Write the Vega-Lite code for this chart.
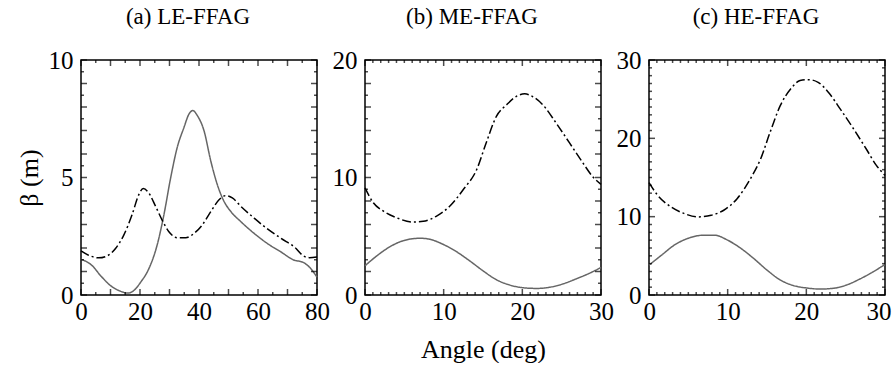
{
  "$schema": "https://vega.github.io/schema/vega-lite/v6.json",
  "padding": {"left": 15, "top": 5, "right": 0, "bottom": 0},
  "background": "white",
  "datasets": {
    "a": [
      {"x": 0, "y": 1.52, "s": "solid"}, {"x": 3.7, "y": 1.26, "s": "solid"}, {"x": 6.6, "y": 0.83, "s": "solid"}, {"x": 10, "y": 0.4, "s": "solid"},
      {"x": 13.4, "y": 0.16, "s": "solid"}, {"x": 15.9, "y": 0.08, "s": "solid"}, {"x": 17.9, "y": 0.19, "s": "solid"}, {"x": 20.2, "y": 0.54, "s": "solid"},
      {"x": 23, "y": 1.12, "s": "solid"}, {"x": 25.8, "y": 2.12, "s": "solid"}, {"x": 28.1, "y": 3.41, "s": "solid"}, {"x": 30.4, "y": 4.99, "s": "solid"},
      {"x": 32.6, "y": 6.27, "s": "solid"}, {"x": 34.9, "y": 7.13, "s": "solid"}, {"x": 36.6, "y": 7.7, "s": "solid"}, {"x": 37.9, "y": 7.85, "s": "solid"},
      {"x": 39.4, "y": 7.64, "s": "solid"}, {"x": 41.7, "y": 6.99, "s": "solid"}, {"x": 44, "y": 5.7, "s": "solid"}, {"x": 46.2, "y": 4.7, "s": "solid"},
      {"x": 48.5, "y": 3.98, "s": "solid"}, {"x": 50.8, "y": 3.55, "s": "solid"}, {"x": 54.2, "y": 3.12, "s": "solid"}, {"x": 58.7, "y": 2.62, "s": "solid"},
      {"x": 63.2, "y": 2.19, "s": "solid"}, {"x": 67.8, "y": 1.83, "s": "solid"}, {"x": 72.3, "y": 1.48, "s": "solid"}, {"x": 75.1, "y": 1.4, "s": "solid"},
      {"x": 77.4, "y": 1.19, "s": "solid"}, {"x": 80, "y": 0.76, "s": "solid"},
      {"x": 0, "y": 1.88, "s": "dashdot"}, {"x": 3.2, "y": 1.66, "s": "dashdot"}, {"x": 6, "y": 1.58, "s": "dashdot"}, {"x": 8.8, "y": 1.66, "s": "dashdot"},
      {"x": 11.7, "y": 1.98, "s": "dashdot"}, {"x": 14.5, "y": 2.55, "s": "dashdot"}, {"x": 17.3, "y": 3.41, "s": "dashdot"}, {"x": 19.6, "y": 4.27, "s": "dashdot"},
      {"x": 21.1, "y": 4.53, "s": "dashdot"}, {"x": 23, "y": 4.34, "s": "dashdot"}, {"x": 25.3, "y": 3.77, "s": "dashdot"}, {"x": 27.5, "y": 3.19, "s": "dashdot"},
      {"x": 29.8, "y": 2.69, "s": "dashdot"}, {"x": 32.6, "y": 2.44, "s": "dashdot"}, {"x": 35.5, "y": 2.44, "s": "dashdot"}, {"x": 38.3, "y": 2.62, "s": "dashdot"},
      {"x": 41.1, "y": 2.98, "s": "dashdot"}, {"x": 44, "y": 3.55, "s": "dashdot"}, {"x": 46.8, "y": 4.05, "s": "dashdot"}, {"x": 49.1, "y": 4.23, "s": "dashdot"},
      {"x": 51.3, "y": 4.13, "s": "dashdot"}, {"x": 54.2, "y": 3.77, "s": "dashdot"}, {"x": 58.7, "y": 3.27, "s": "dashdot"}, {"x": 63.2, "y": 2.81, "s": "dashdot"},
      {"x": 67.8, "y": 2.41, "s": "dashdot"}, {"x": 72.9, "y": 1.98, "s": "dashdot"}, {"x": 75.1, "y": 1.69, "s": "dashdot"}, {"x": 77.4, "y": 1.59, "s": "dashdot"},
      {"x": 80, "y": 1.62, "s": "dashdot"}
    ],
    "b": [
      {"x": 0, "y": 2.49, "s": "solid"}, {"x": 1.5, "y": 3.33, "s": "solid"}, {"x": 3.2, "y": 4.12, "s": "solid"}, {"x": 4.9, "y": 4.63, "s": "solid"},
      {"x": 7.0, "y": 4.83, "s": "solid"}, {"x": 8.2, "y": 4.75, "s": "solid"}, {"x": 9.9, "y": 4.32, "s": "solid"}, {"x": 11.6, "y": 3.7, "s": "solid"},
      {"x": 13.3, "y": 2.91, "s": "solid"}, {"x": 15.0, "y": 2.06, "s": "solid"}, {"x": 16.7, "y": 1.3, "s": "solid"}, {"x": 18.4, "y": 0.85, "s": "solid"},
      {"x": 20.1, "y": 0.62, "s": "solid"}, {"x": 21.8, "y": 0.56, "s": "solid"}, {"x": 23.4, "y": 0.65, "s": "solid"}, {"x": 25.1, "y": 0.93, "s": "solid"},
      {"x": 26.8, "y": 1.36, "s": "solid"}, {"x": 28.5, "y": 1.84, "s": "solid"}, {"x": 30, "y": 2.34, "s": "solid"},
      {"x": 0, "y": 9.12, "s": "dashdot"}, {"x": 1.06, "y": 7.85, "s": "dashdot"}, {"x": 2.3, "y": 7.15, "s": "dashdot"}, {"x": 4.0, "y": 6.58, "s": "dashdot"},
      {"x": 6.1, "y": 6.21, "s": "dashdot"}, {"x": 7.4, "y": 6.27, "s": "dashdot"}, {"x": 9.1, "y": 6.72, "s": "dashdot"}, {"x": 10.8, "y": 7.57, "s": "dashdot"},
      {"x": 12.5, "y": 8.98, "s": "dashdot"}, {"x": 14.2, "y": 10.68, "s": "dashdot"}, {"x": 15.4, "y": 12.94, "s": "dashdot"}, {"x": 16.7, "y": 15.2, "s": "dashdot"},
      {"x": 18.0, "y": 16.19, "s": "dashdot"}, {"x": 19.2, "y": 16.89, "s": "dashdot"}, {"x": 20.3, "y": 17.12, "s": "dashdot"}, {"x": 21.3, "y": 16.89, "s": "dashdot"},
      {"x": 22.6, "y": 16.19, "s": "dashdot"}, {"x": 24.3, "y": 14.63, "s": "dashdot"}, {"x": 26.0, "y": 12.94, "s": "dashdot"}, {"x": 27.7, "y": 11.24, "s": "dashdot"},
      {"x": 28.9, "y": 10.11, "s": "dashdot"}, {"x": 30, "y": 9.41, "s": "dashdot"}
    ],
    "c": [
      {"x": 0, "y": 3.82, "s": "solid"}, {"x": 1.6, "y": 5.09, "s": "solid"}, {"x": 3.2, "y": 6.36, "s": "solid"}, {"x": 4.9, "y": 7.21, "s": "solid"},
      {"x": 7.0, "y": 7.64, "s": "solid"}, {"x": 8.3, "y": 7.64, "s": "solid"}, {"x": 10.0, "y": 7.0, "s": "solid"}, {"x": 11.7, "y": 5.94, "s": "solid"},
      {"x": 13.3, "y": 4.67, "s": "solid"}, {"x": 15.0, "y": 3.18, "s": "solid"}, {"x": 16.7, "y": 1.91, "s": "solid"}, {"x": 18.4, "y": 1.19, "s": "solid"},
      {"x": 20.1, "y": 0.89, "s": "solid"}, {"x": 21.7, "y": 0.76, "s": "solid"}, {"x": 23.4, "y": 0.85, "s": "solid"}, {"x": 25.1, "y": 1.27, "s": "solid"},
      {"x": 26.8, "y": 2.04, "s": "solid"}, {"x": 28.5, "y": 2.97, "s": "solid"}, {"x": 30, "y": 3.9, "s": "solid"},
      {"x": 0, "y": 14.34, "s": "dashdot"}, {"x": 1.1, "y": 12.73, "s": "dashdot"}, {"x": 2.8, "y": 11.24, "s": "dashdot"}, {"x": 4.5, "y": 10.39, "s": "dashdot"},
      {"x": 6.2, "y": 9.97, "s": "dashdot"}, {"x": 7.9, "y": 10.18, "s": "dashdot"}, {"x": 9.5, "y": 10.82, "s": "dashdot"}, {"x": 11.2, "y": 12.3, "s": "dashdot"},
      {"x": 12.9, "y": 14.85, "s": "dashdot"}, {"x": 14.2, "y": 17.4, "s": "dashdot"}, {"x": 15.4, "y": 20.8, "s": "dashdot"}, {"x": 16.7, "y": 24.2, "s": "dashdot"},
      {"x": 18.0, "y": 26.3, "s": "dashdot"}, {"x": 19.2, "y": 27.37, "s": "dashdot"}, {"x": 20.3, "y": 27.49, "s": "dashdot"}, {"x": 21.5, "y": 27.15, "s": "dashdot"},
      {"x": 22.8, "y": 25.88, "s": "dashdot"}, {"x": 24.3, "y": 23.76, "s": "dashdot"}, {"x": 26.0, "y": 21.21, "s": "dashdot"}, {"x": 27.6, "y": 18.67, "s": "dashdot"},
      {"x": 28.9, "y": 16.55, "s": "dashdot"}, {"x": 30, "y": 15.27, "s": "dashdot"}
    ],
    "ax": [
      {"v": 0, "k": "major"}, {"v": 5, "k": "minor"}, {"v": 10, "k": "major"}, {"v": 15, "k": "minor"}, {"v": 20, "k": "major"}, {"v": 25, "k": "minor"},
      {"v": 30, "k": "major"}, {"v": 35, "k": "minor"}, {"v": 40, "k": "major"}, {"v": 45, "k": "minor"}, {"v": 50, "k": "major"}, {"v": 55, "k": "minor"},
      {"v": 60, "k": "major"}, {"v": 65, "k": "minor"}, {"v": 70, "k": "major"}, {"v": 75, "k": "minor"}, {"v": 80, "k": "major"}
    ],
    "ay": [
      {"v": 0, "k": "major"}, {"v": 0.5, "k": "minor"}, {"v": 1, "k": "major"}, {"v": 1.5, "k": "minor"}, {"v": 2, "k": "major"}, {"v": 2.5, "k": "minor"},
      {"v": 3, "k": "major"}, {"v": 3.5, "k": "minor"}, {"v": 4, "k": "major"}, {"v": 4.5, "k": "minor"}, {"v": 5, "k": "major"}, {"v": 5.5, "k": "minor"},
      {"v": 6, "k": "major"}, {"v": 6.5, "k": "minor"}, {"v": 7, "k": "major"}, {"v": 7.5, "k": "minor"}, {"v": 8, "k": "major"}, {"v": 8.5, "k": "minor"},
      {"v": 9, "k": "major"}, {"v": 9.5, "k": "minor"}, {"v": 10, "k": "major"}
    ],
    "x30": [
      {"v": 0, "k": "major"}, {"v": 1, "k": "minor"}, {"v": 2, "k": "minor"}, {"v": 3, "k": "minor"}, {"v": 4, "k": "minor"}, {"v": 5, "k": "minor"},
      {"v": 6, "k": "minor"}, {"v": 7, "k": "minor"}, {"v": 8, "k": "minor"}, {"v": 9, "k": "minor"}, {"v": 10, "k": "major"}, {"v": 11, "k": "minor"},
      {"v": 12, "k": "minor"}, {"v": 13, "k": "minor"}, {"v": 14, "k": "minor"}, {"v": 15, "k": "minor"}, {"v": 16, "k": "minor"}, {"v": 17, "k": "minor"},
      {"v": 18, "k": "minor"}, {"v": 19, "k": "minor"}, {"v": 20, "k": "major"}, {"v": 21, "k": "minor"}, {"v": 22, "k": "minor"}, {"v": 23, "k": "minor"},
      {"v": 24, "k": "minor"}, {"v": 25, "k": "minor"}, {"v": 26, "k": "minor"}, {"v": 27, "k": "minor"}, {"v": 28, "k": "minor"}, {"v": 29, "k": "minor"},
      {"v": 30, "k": "major"}
    ],
    "by": [
      {"v": 0, "k": "major"}, {"v": 1, "k": "minor"}, {"v": 2, "k": "major"}, {"v": 3, "k": "minor"}, {"v": 4, "k": "major"}, {"v": 5, "k": "minor"},
      {"v": 6, "k": "major"}, {"v": 7, "k": "minor"}, {"v": 8, "k": "major"}, {"v": 9, "k": "minor"}, {"v": 10, "k": "major"}, {"v": 11, "k": "minor"},
      {"v": 12, "k": "major"}, {"v": 13, "k": "minor"}, {"v": 14, "k": "major"}, {"v": 15, "k": "minor"}, {"v": 16, "k": "major"}, {"v": 17, "k": "minor"},
      {"v": 18, "k": "major"}, {"v": 19, "k": "minor"}, {"v": 20, "k": "major"}
    ]
  },
  "hconcat": [
    {
      "width": 236, "height": 235,
      "title": {"text": "(a) LE-FFAG", "dx": -11, "offset": 19, "frame": "group"},
      "layer": [
        {"data": {"name": "a"},
         "mark": {"type": "line", "interpolate": "monotone", "strokeWidth": 1.5},
         "encoding": {
           "x": {"field": "x", "type": "quantitative", "axis": {"orient": "bottom", "values": [0, 20, 40, 60, 80], "ticks": false, "labelPadding": 4, "title": null}},
           "y": {"field": "y", "type": "quantitative", "axis": {"orient": "left", "values": [0, 5, 10], "ticks": false, "labelPadding": 8, "title": "β (m)", "titlePadding": 6}},
           "color": {"field": "s", "type": "nominal", "scale": {"domain": ["solid", "dashdot"], "range": ["#666666", "#000000"]}, "legend": null},
           "strokeDash": {"field": "s", "type": "nominal", "scale": {"domain": ["solid", "dashdot"], "range": [[1, 0], [9, 3, 2, 3]]}, "legend": null}
         }},
        {"data": {"name": "ax"}, "transform": [{"filter": "datum.k === 'major'"}], "mark": {"type": "tick", "orient": "vertical", "size": 6, "yOffset": -3, "thickness": 1.5, "color": "#000000"},
         "encoding": {"x": {"field": "v", "type": "quantitative"}, "y": {"datum": 0, "type": "quantitative"}}},
        {"data": {"name": "ax"}, "transform": [{"filter": "datum.k === 'minor'"}], "mark": {"type": "tick", "orient": "vertical", "size": 3, "yOffset": -1.5, "thickness": 1.5, "color": "#000000"},
         "encoding": {"x": {"field": "v", "type": "quantitative"}, "y": {"datum": 0, "type": "quantitative"}}},
        {"data": {"name": "ax"}, "transform": [{"filter": "datum.k === 'major'"}], "mark": {"type": "tick", "orient": "vertical", "size": 6, "yOffset": 3, "thickness": 1.5, "color": "#000000"},
         "encoding": {"x": {"field": "v", "type": "quantitative"}, "y": {"datum": 10, "type": "quantitative"}}},
        {"data": {"name": "ax"}, "transform": [{"filter": "datum.k === 'minor'"}], "mark": {"type": "tick", "orient": "vertical", "size": 3, "yOffset": 1.5, "thickness": 1.5, "color": "#000000"},
         "encoding": {"x": {"field": "v", "type": "quantitative"}, "y": {"datum": 10, "type": "quantitative"}}},
        {"data": {"name": "ay"}, "transform": [{"filter": "datum.k === 'major'"}], "mark": {"type": "tick", "orient": "horizontal", "size": 6, "xOffset": 3, "thickness": 1.5, "color": "#000000"},
         "encoding": {"y": {"field": "v", "type": "quantitative"}, "x": {"datum": 0, "type": "quantitative"}}},
        {"data": {"name": "ay"}, "transform": [{"filter": "datum.k === 'minor'"}], "mark": {"type": "tick", "orient": "horizontal", "size": 3, "xOffset": 1.5, "thickness": 1.5, "color": "#000000"},
         "encoding": {"y": {"field": "v", "type": "quantitative"}, "x": {"datum": 0, "type": "quantitative"}}},
        {"data": {"name": "ay"}, "transform": [{"filter": "datum.k === 'major'"}], "mark": {"type": "tick", "orient": "horizontal", "size": 6, "xOffset": -3, "thickness": 1.5, "color": "#000000"},
         "encoding": {"y": {"field": "v", "type": "quantitative"}, "x": {"datum": 80, "type": "quantitative"}}},
        {"data": {"name": "ay"}, "transform": [{"filter": "datum.k === 'minor'"}], "mark": {"type": "tick", "orient": "horizontal", "size": 3, "xOffset": -1.5, "thickness": 1.5, "color": "#000000"},
         "encoding": {"y": {"field": "v", "type": "quantitative"}, "x": {"datum": 80, "type": "quantitative"}}}
      ]
    },
    {
      "width": 236, "height": 235,
      "title": {"text": "(b) ME-FFAG", "dx": -11, "offset": 19, "frame": "group"},
      "layer": [
        {"data": {"name": "b"},
         "mark": {"type": "line", "interpolate": "monotone", "strokeWidth": 1.5},
         "encoding": {
           "x": {"field": "x", "type": "quantitative", "axis": {"orient": "bottom", "values": [0, 10, 20, 30], "ticks": false, "labelPadding": 4, "title": "Angle (deg)", "titlePadding": 12}},
           "y": {"field": "y", "type": "quantitative", "axis": {"orient": "left", "values": [0, 10, 20], "ticks": false, "labelPadding": 8, "title": null}},
           "color": {"field": "s", "type": "nominal", "scale": {"domain": ["solid", "dashdot"], "range": ["#666666", "#000000"]}, "legend": null},
           "strokeDash": {"field": "s", "type": "nominal", "scale": {"domain": ["solid", "dashdot"], "range": [[1, 0], [9, 3, 2, 3]]}, "legend": null}
         }},
        {"data": {"name": "x30"}, "transform": [{"filter": "datum.k === 'major'"}], "mark": {"type": "tick", "orient": "vertical", "size": 6, "yOffset": -3, "thickness": 1.5, "color": "#000000"},
         "encoding": {"x": {"field": "v", "type": "quantitative"}, "y": {"datum": 0, "type": "quantitative"}}},
        {"data": {"name": "x30"}, "transform": [{"filter": "datum.k === 'minor'"}], "mark": {"type": "tick", "orient": "vertical", "size": 3, "yOffset": -1.5, "thickness": 1.5, "color": "#000000"},
         "encoding": {"x": {"field": "v", "type": "quantitative"}, "y": {"datum": 0, "type": "quantitative"}}},
        {"data": {"name": "x30"}, "transform": [{"filter": "datum.k === 'major'"}], "mark": {"type": "tick", "orient": "vertical", "size": 6, "yOffset": 3, "thickness": 1.5, "color": "#000000"},
         "encoding": {"x": {"field": "v", "type": "quantitative"}, "y": {"datum": 20, "type": "quantitative"}}},
        {"data": {"name": "x30"}, "transform": [{"filter": "datum.k === 'minor'"}], "mark": {"type": "tick", "orient": "vertical", "size": 3, "yOffset": 1.5, "thickness": 1.5, "color": "#000000"},
         "encoding": {"x": {"field": "v", "type": "quantitative"}, "y": {"datum": 20, "type": "quantitative"}}},
        {"data": {"name": "by"}, "transform": [{"filter": "datum.k === 'major'"}], "mark": {"type": "tick", "orient": "horizontal", "size": 6, "xOffset": 3, "thickness": 1.5, "color": "#000000"},
         "encoding": {"y": {"field": "v", "type": "quantitative"}, "x": {"datum": 0, "type": "quantitative"}}},
        {"data": {"name": "by"}, "transform": [{"filter": "datum.k === 'minor'"}], "mark": {"type": "tick", "orient": "horizontal", "size": 3, "xOffset": 1.5, "thickness": 1.5, "color": "#000000"},
         "encoding": {"y": {"field": "v", "type": "quantitative"}, "x": {"datum": 0, "type": "quantitative"}}},
        {"data": {"name": "by"}, "transform": [{"filter": "datum.k === 'major'"}], "mark": {"type": "tick", "orient": "horizontal", "size": 6, "xOffset": -3, "thickness": 1.5, "color": "#000000"},
         "encoding": {"y": {"field": "v", "type": "quantitative"}, "x": {"datum": 30, "type": "quantitative"}}},
        {"data": {"name": "by"}, "transform": [{"filter": "datum.k === 'minor'"}], "mark": {"type": "tick", "orient": "horizontal", "size": 3, "xOffset": -1.5, "thickness": 1.5, "color": "#000000"},
         "encoding": {"y": {"field": "v", "type": "quantitative"}, "x": {"datum": 30, "type": "quantitative"}}}
      ]
    },
    {
      "width": 236, "height": 235,
      "title": {"text": "(c) HE-FFAG", "dx": -11, "offset": 19, "frame": "group"},
      "layer": [
        {"data": {"name": "c"},
         "mark": {"type": "line", "interpolate": "monotone", "strokeWidth": 1.5},
         "encoding": {
           "x": {"field": "x", "type": "quantitative", "axis": {"orient": "bottom", "values": [0, 10, 20, 30], "ticks": false, "labelPadding": 4, "labelFlush": true, "labelFlushOffset": 6, "title": null}},
           "y": {"field": "y", "type": "quantitative", "axis": {"orient": "left", "values": [0, 10, 20, 30], "ticks": false, "labelPadding": 8, "title": null}},
           "color": {"field": "s", "type": "nominal", "scale": {"domain": ["solid", "dashdot"], "range": ["#666666", "#000000"]}, "legend": null},
           "strokeDash": {"field": "s", "type": "nominal", "scale": {"domain": ["solid", "dashdot"], "range": [[1, 0], [9, 3, 2, 3]]}, "legend": null}
         }},
        {"data": {"name": "x30"}, "transform": [{"filter": "datum.k === 'major'"}], "mark": {"type": "tick", "orient": "vertical", "size": 6, "yOffset": -3, "thickness": 1.5, "color": "#000000"},
         "encoding": {"x": {"field": "v", "type": "quantitative"}, "y": {"datum": 0, "type": "quantitative"}}},
        {"data": {"name": "x30"}, "transform": [{"filter": "datum.k === 'minor'"}], "mark": {"type": "tick", "orient": "vertical", "size": 3, "yOffset": -1.5, "thickness": 1.5, "color": "#000000"},
         "encoding": {"x": {"field": "v", "type": "quantitative"}, "y": {"datum": 0, "type": "quantitative"}}},
        {"data": {"name": "x30"}, "transform": [{"filter": "datum.k === 'major'"}], "mark": {"type": "tick", "orient": "vertical", "size": 6, "yOffset": 3, "thickness": 1.5, "color": "#000000"},
         "encoding": {"x": {"field": "v", "type": "quantitative"}, "y": {"datum": 30, "type": "quantitative"}}},
        {"data": {"name": "x30"}, "transform": [{"filter": "datum.k === 'minor'"}], "mark": {"type": "tick", "orient": "vertical", "size": 3, "yOffset": 1.5, "thickness": 1.5, "color": "#000000"},
         "encoding": {"x": {"field": "v", "type": "quantitative"}, "y": {"datum": 30, "type": "quantitative"}}},
        {"data": {"name": "x30"}, "transform": [{"filter": "datum.k === 'major'"}], "mark": {"type": "tick", "orient": "horizontal", "size": 6, "xOffset": 3, "thickness": 1.5, "color": "#000000"},
         "encoding": {"y": {"field": "v", "type": "quantitative"}, "x": {"datum": 0, "type": "quantitative"}}},
        {"data": {"name": "x30"}, "transform": [{"filter": "datum.k === 'minor'"}], "mark": {"type": "tick", "orient": "horizontal", "size": 3, "xOffset": 1.5, "thickness": 1.5, "color": "#000000"},
         "encoding": {"y": {"field": "v", "type": "quantitative"}, "x": {"datum": 0, "type": "quantitative"}}},
        {"data": {"name": "x30"}, "transform": [{"filter": "datum.k === 'major'"}], "mark": {"type": "tick", "orient": "horizontal", "size": 6, "xOffset": -3, "thickness": 1.5, "color": "#000000"},
         "encoding": {"y": {"field": "v", "type": "quantitative"}, "x": {"datum": 30, "type": "quantitative"}}},
        {"data": {"name": "x30"}, "transform": [{"filter": "datum.k === 'minor'"}], "mark": {"type": "tick", "orient": "horizontal", "size": 3, "xOffset": -1.5, "thickness": 1.5, "color": "#000000"},
         "encoding": {"y": {"field": "v", "type": "quantitative"}, "x": {"datum": 30, "type": "quantitative"}}}
      ]
    }
  ],
  "spacing": 48,
  "bounds": "flush",
  "config": {
    "font": "Liberation Serif",
    "view": {"stroke": "#000000", "strokeWidth": 1.5},
    "axis": {"domain": false, "grid": false, "labelFont": "Liberation Serif", "labelFontSize": 25, "labelColor": "#000000", "titleFont": "Liberation Serif", "titleFontSize": 26, "titleFontWeight": "normal", "titleColor": "#000000", "labelFlush": false, "labelOverlap": false},
    "title": {"font": "Liberation Serif", "fontSize": 23, "fontWeight": "normal", "color": "#000000"}
  }
}
